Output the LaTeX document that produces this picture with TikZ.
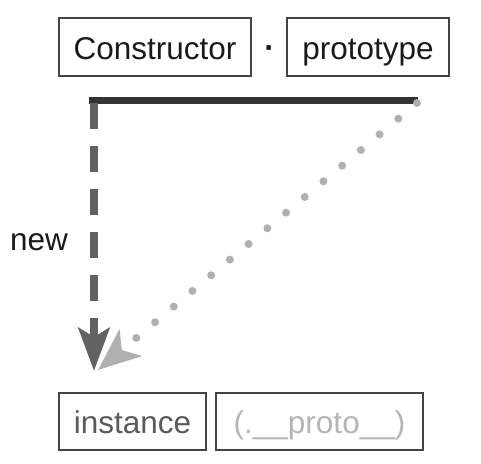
\documentclass[tikz,border=0pt]{standalone}
\usepackage{fontspec}
\setmainfont{Liberation Sans}
\usetikzlibrary{arrows.meta}
\definecolor{boxline}{HTML}{444444}
\definecolor{darktext}{HTML}{1A1A1A}
\definecolor{midtext}{HTML}{5A5A5A}
\definecolor{lighttext}{HTML}{B5B5B5}
\definecolor{barcol}{HTML}{333333}
\definecolor{newcol}{HTML}{626262}
\definecolor{dotcol}{HTML}{B0B0B0}
\tikzset{
  labelbox/.style={draw=boxline, line width=2pt, rectangle, inner sep=0pt,
    minimum height=58pt, text height=24pt, text depth=0pt,
    font=\fontsize{31.5pt}{36pt}\selectfont},
  barline/.style={draw=barcol, line width=7pt},
  newarrow/.style={draw=newcol, line width=8pt, dash pattern=on 26pt off 17pt,
    -{Stealth[length=43pt,width=31pt,inset=9pt,fill=newcol]}},
  protoarrow/.style={draw=dotcol, line width=8pt, line cap=round,
    dash pattern=on 0pt off 24.4pt,
    -{Stealth[length=42pt,width=34pt,inset=11pt,fill=dotcol]}},
}
\begin{document}
\begin{tikzpicture}[x=1pt,y=-1pt]
\useasboundingbox (0,0) rectangle (481,463);
\node[labelbox, minimum width=192pt, text=darktext] (ctor) at (155,47) {Constructor};
\node[labelbox, minimum width=162pt, text=darktext] (proto) at (368,47) {prototype};
\node[anchor=base, inner sep=0pt, text=darktext, font=\fontsize{31.5pt}{36pt}\selectfont\bfseries] (dot) at (269.5,58) {·};
\node[labelbox, minimum width=147pt, minimum height=57pt, text=midtext] (inst) at (132.5,421.5) {instance};
\node[labelbox, minimum width=207pt, minimum height=57pt, text=lighttext] (dproto) at (319.5,421.5) {(.\_\_proto\_\_)};
\node[anchor=base west, inner sep=0pt, text=darktext, font=\fontsize{31.5pt}{36pt}\selectfont] (newlbl) at (10,250) {new};
\coordinate (barL) at (89,100.5);
\coordinate (barR) at (418,100.5);
\coordinate (ns) at (94,103);
\coordinate (tipA) at (94,371);
\coordinate (ps) at (417,103);
\coordinate (tipB) at (98,370);
\draw[barline] (barL) -- (barR);
\draw[protoarrow] (ps) -- (tipB);
\draw[newarrow] (ns) -- (tipA);
\end{tikzpicture}
\end{document}
